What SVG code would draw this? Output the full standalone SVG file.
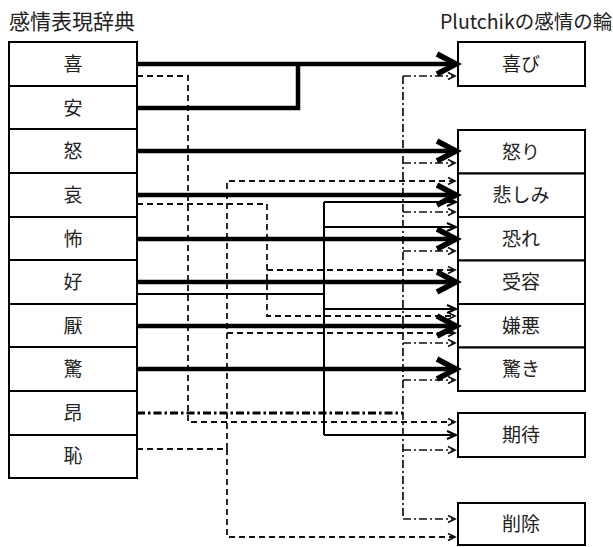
<svg xmlns="http://www.w3.org/2000/svg" width="613" height="547" viewBox="0 0 613 547">
<style>
.box{fill:#fff;stroke:#000;stroke-width:2}
.lbl{font-family:"Noto Sans CJK JP","Noto Sans",sans-serif;font-size:19px;fill:#222;text-anchor:middle}
.ttl{font-family:"Noto Sans CJK JP","Noto Sans",sans-serif;font-size:21px;fill:#222}
.ttr{font-family:"Noto Sans CJK JP","Noto Sans",sans-serif;font-size:19.5px;fill:#222}
.thick{fill:none;stroke:#000;stroke-width:4.5}
.thin{fill:none;stroke:#000;stroke-width:2}
.dash{fill:none;stroke:#111;stroke-width:1.8;stroke-dasharray:6 4}
.dd{fill:none;stroke:#111;stroke-width:1.7;stroke-dasharray:8 3 2 3}
.ddb{fill:none;stroke:#000;stroke-width:2.8;stroke-dasharray:8 3 2.5 3}
</style>
<defs>
<marker id="aThick" markerUnits="userSpaceOnUse" markerWidth="24" markerHeight="24" refX="19" refY="10" orient="auto" overflow="visible"><path d="M0,0 L19,10 L0,20" fill="none" stroke="#000" stroke-width="5.5"/></marker>
<marker id="aThin" markerUnits="userSpaceOnUse" markerWidth="14" markerHeight="14" refX="10" refY="5" orient="auto" overflow="visible"><path d="M1,1 L10,5 L1,9" fill="none" stroke="#000" stroke-width="2"/></marker>
<marker id="aDash" markerUnits="userSpaceOnUse" markerWidth="12" markerHeight="12" refX="8" refY="4.5" orient="auto" overflow="visible"><path d="M1,1 L8,4.5 L1,8" fill="none" stroke="#111" stroke-width="1.7"/></marker>
</defs>
<g id="titles">
<text class="ttl" x="9" y="29">感情表現辞典</text>
<text class="ttr" x="440" y="29">Plutchikの感情の輪</text>
</g>
<g id="left">
<g id="n-ki"><rect class="box" x="9" y="42" width="128" height="44"/><text class="lbl" x="73" y="71">喜</text></g>
<g id="n-an"><rect class="box" x="9" y="86" width="128" height="43"/><text class="lbl" x="73" y="115">安</text></g>
<g id="n-do"><rect class="box" x="9" y="129" width="128" height="44"/><text class="lbl" x="73" y="158">怒</text></g>
<g id="n-ai"><rect class="box" x="9" y="173" width="128" height="44"/><text class="lbl" x="73" y="202">哀</text></g>
<g id="n-fu"><rect class="box" x="9" y="217" width="128" height="43"/><text class="lbl" x="73" y="246">怖</text></g>
<g id="n-kou"><rect class="box" x="9" y="260" width="128" height="44"/><text class="lbl" x="73" y="289">好</text></g>
<g id="n-en"><rect class="box" x="9" y="304" width="128" height="43"/><text class="lbl" x="73" y="333">厭</text></g>
<g id="n-kyo"><rect class="box" x="9" y="347" width="128" height="44"/><text class="lbl" x="73" y="376">驚</text></g>
<g id="n-kou2"><rect class="box" x="9" y="391" width="128" height="44"/><text class="lbl" x="73" y="420">昂</text></g>
<g id="n-chi"><rect class="box" x="9" y="435" width="128" height="43"/><text class="lbl" x="73" y="463">恥</text></g>
</g>
<g id="right">
<g id="r-yorokobi"><rect class="box" x="458" y="42" width="127" height="44"/><text class="lbl" x="521" y="71">喜び</text></g>
<g id="r-ikari"><rect class="box" x="458" y="130" width="127" height="43.5"/><text class="lbl" x="521" y="159">怒り</text></g>
<g id="r-kanashimi"><rect class="box" x="458" y="173.5" width="127" height="43.5"/><text class="lbl" x="521" y="202">悲しみ</text></g>
<g id="r-osore"><rect class="box" x="458" y="217" width="127" height="43.5"/><text class="lbl" x="521" y="246">恐れ</text></g>
<g id="r-juyou"><rect class="box" x="458" y="260.5" width="127" height="43.5"/><text class="lbl" x="521" y="289">受容</text></g>
<g id="r-keno"><rect class="box" x="458" y="304" width="127" height="43.5"/><text class="lbl" x="521" y="333">嫌悪</text></g>
<g id="r-odoroki"><rect class="box" x="458" y="347.5" width="127" height="43.5"/><text class="lbl" x="521" y="376">驚き</text></g>
<g id="r-kitai"><rect class="box" x="458" y="413" width="127" height="44"/><text class="lbl" x="521" y="442">期待</text></g>
<g id="r-sakujo"><rect class="box" x="458" y="503" width="127" height="42"/><text class="lbl" x="521" y="531">削除</text></g>
</g>
<g id="connectors">
<path class="dash" d="M137,76 H188 V422 H455" marker-end="url(#aDash)"/>
<path class="dash" d="M137,204 H267 V316 H455" marker-end="url(#aDash)"/>
<path class="dash" d="M267,270 H455" marker-end="url(#aDash)"/>
<path class="dash" d="M137,449 H227 V537 H455" marker-end="url(#aDash)"/>
<path class="dash" d="M227,449 V181 H455" marker-end="url(#aDash)"/>
<path class="dash" d="M227,333 H455" marker-end="url(#aDash)"/>
<path class="ddb" d="M137,413 H403"/>
<path class="dd" d="M403,76 V519"/>
<path class="dd" d="M403,76 H455" marker-end="url(#aDash)"/>
<path class="dd" d="M403,163 H455" marker-end="url(#aDash)"/>
<path class="dd" d="M403,212 H455" marker-end="url(#aDash)"/>
<path class="dd" d="M403,251 H455" marker-end="url(#aDash)"/>
<path class="dd" d="M403,343 H455" marker-end="url(#aDash)"/>
<path class="dd" d="M403,380 H455" marker-end="url(#aDash)"/>
<path class="dd" d="M403,450 H455" marker-end="url(#aDash)"/>
<path class="dd" d="M403,519 H455" marker-end="url(#aDash)"/>
<path class="thin" d="M137,294 H324"/>
<path class="thin" d="M324,202 V435"/>
<path class="thin" d="M324,202 H456" marker-end="url(#aThin)"/>
<path class="thin" d="M324,227 H456" marker-end="url(#aThin)"/>
<path class="thin" d="M324,309 H456" marker-end="url(#aThin)"/>
<path class="thin" d="M324,435 H456" marker-end="url(#aThin)"/>
<path class="thick" d="M137,64 H456" marker-end="url(#aThick)"/>
<path class="thick" d="M137,108 H298 V64"/>
<path class="thick" d="M137,151 H456" marker-end="url(#aThick)"/>
<path class="thick" d="M137,195 H456" marker-end="url(#aThick)"/>
<path class="thick" d="M137,239 H456" marker-end="url(#aThick)"/>
<path class="thick" d="M137,282 H456" marker-end="url(#aThick)"/>
<path class="thick" d="M137,326 H456" marker-end="url(#aThick)"/>
<path class="thick" d="M137,369 H456" marker-end="url(#aThick)"/>
</g>
</svg>
